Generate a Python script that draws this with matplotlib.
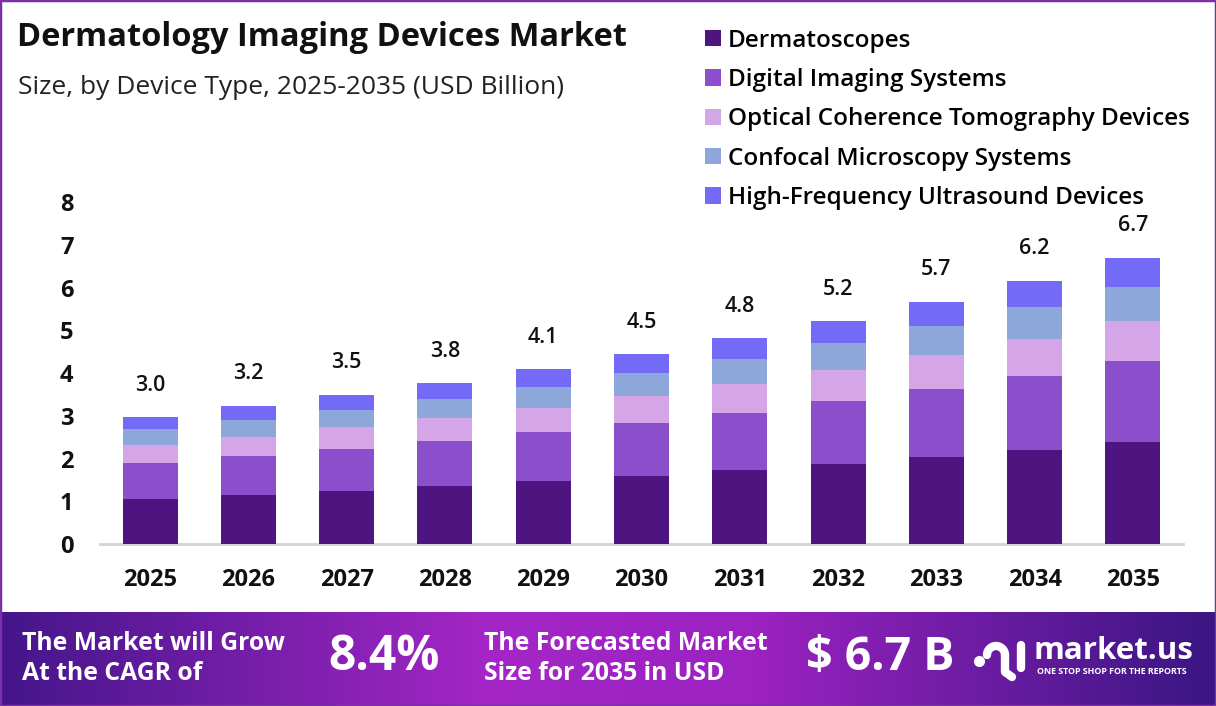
import numpy as np
import matplotlib
matplotlib.use("Agg")
import matplotlib.pyplot as plt
from matplotlib.patches import Rectangle
from matplotlib.colors import LinearSegmentedColormap

plt.rcParams["font.family"] = ["Open Sans", "DejaVu Sans"]

# data (USD Billion)
years = ["2025", "2026", "2027", "2028", "2029", "2030", "2031", "2032", "2033", "2034", "2035"]
dermatoscopes = [1.05, 1.15, 1.25, 1.36, 1.47, 1.59, 1.73, 1.87, 2.04, 2.20, 2.39]
digital_imaging = [0.84, 0.91, 0.98, 1.05, 1.15, 1.25, 1.33, 1.47, 1.59, 1.73, 1.89]
oct_devices = [0.42, 0.45, 0.50, 0.54, 0.56, 0.62, 0.68, 0.73, 0.79, 0.87, 0.94]
confocal = [0.37, 0.39, 0.41, 0.44, 0.49, 0.54, 0.58, 0.63, 0.69, 0.75, 0.80]
hf_ultrasound = [0.28, 0.33, 0.35, 0.37, 0.42, 0.44, 0.49, 0.51, 0.56, 0.61, 0.68]
totals = ["3.0", "3.2", "3.5", "3.8", "4.1", "4.5", "4.8", "5.2", "5.7", "6.2", "6.7"]

series = ["Dermatoscopes", "Digital Imaging Systems", "Optical Coherence Tomography Devices",
          "Confocal Microscopy Systems", "High-Frequency Ultrasound Devices"]
colors = ["#4E1580", "#8B4FCB", "#D4A6E8", "#8EA7DA", "#736BF7"]

W, H = 1216, 706
fig = plt.figure(figsize=(W / 100, H / 100), dpi=100)


def fx(px):
    return px / W


def fy(py):
    return 1 - py / H


# main chart
ax = fig.add_axes([fx(100), fy(544), fx(1183) - fx(100), fy(202) - fy(544)])
x = np.arange(len(years))
bottom = np.zeros(len(years))
handles = []
for vals, name, c in zip([dermatoscopes, digital_imaging, oct_devices, confocal, hf_ultrasound], series, colors):
    b = ax.bar(x, vals, 0.56, bottom=bottom, color=c, label=name, zorder=3)
    handles.append(b)
    bottom += np.array(vals)

for i, t in enumerate(totals):
    ax.annotate(t, (x[i], bottom[i]), xytext=(0, 23), textcoords="offset points",
                ha="center", va="center", fontsize=15.5, fontweight="semibold", color="#111111")

ax.set_xlim(-0.51, 10.51)
ax.set_ylim(0, 8)
ax.set_yticks(range(0, 9))
ax.set_xticks(x)
ax.set_xticklabels(years)
for s in ["top", "right", "left"]:
    ax.spines[s].set_visible(False)
ax.spines["bottom"].set_color("#D3D3D3")
ax.spines["bottom"].set_linewidth(2)
ax.tick_params(axis="both", length=0, labelsize=17, colors="#111111")
ax.tick_params(axis="x", pad=17)
ax.tick_params(axis="y", pad=19)
for lab in ax.get_xticklabels() + ax.get_yticklabels():
    lab.set_fontweight("bold")

# title
fig.text(fx(17), fy(38), "Dermatology Imaging Devices Market", fontsize=23.5, fontweight="bold",
         va="center", ha="left", color="#111111")
fig.text(fx(18), fy(88), "Size, by Device Type, 2025-2035 (USD Billion)", fontsize=19,
         va="center", ha="left", color="#222222")

# legend
fig.legend(handles, series, loc="upper left", bbox_to_anchor=(fx(695), fy(19)), frameon=False,
           prop={"weight": "semibold", "size": 17.5}, handlelength=0.65, handleheight=0.65,
           handletextpad=0.3, labelspacing=0.63, borderaxespad=0)

# bottom banner with gradient
bax = fig.add_axes([0, 0, 1, fy(612)])
grad = LinearSegmentedColormap.from_list("banner", [(0, "#44168A"), (0.4, "#A426C6"), (0.62, "#9C22C2"), (1, "#3A1682")])
bax.imshow(np.linspace(0, 1, 256).reshape(1, -1), aspect="auto", cmap=grad, extent=[0, 1, 0, 1])
bax.set_axis_off()

fig.text(fx(22), fy(643), "The Market will Grow", color="white", fontsize=17.8, fontweight="bold", va="center")
fig.text(fx(22), fy(673), "At the CAGR of", color="white", fontsize=17.8, fontweight="bold", va="center")
fig.text(fx(328), fy(657), "8.4%", color="white", fontsize=34.5, fontweight="bold", va="center")
fig.text(fx(484), fy(643), "The Forecasted Market", color="white", fontsize=17.8, fontweight="bold", va="center")
fig.text(fx(484), fy(673), "Size for 2035 in USD", color="white", fontsize=17.8, fontweight="bold", va="center")
fig.text(fx(806), fy(657), "$ 6.7 B", color="white", fontsize=33.5, fontweight="bold", va="center")

# logo
fig.add_artist(plt.Line2D([fx(979)], [fy(661)], marker="o", markersize=7, color="white"))
t = np.linspace(np.pi, 0, 30)
fig.add_artist(plt.Line2D(fx(996 + 9 * np.cos(t)), fy(655 - 9 * np.sin(t)), color="white", lw=6,
                          solid_capstyle="round"))
fig.add_artist(plt.Line2D([fx(1005), fx(1005), fx(1012)], [fy(655), fy(672), fy(677)], color="white", lw=6,
                          solid_capstyle="round"))
fig.add_artist(plt.Line2D([fx(1021), fx(1021)], [fy(645), fy(668)], color="white", lw=6, solid_capstyle="round"))
fig.text(fx(1034), fy(651), "market.us", color="white", fontsize=22.5, fontweight="bold", va="center")
fig.text(fx(1037), fy(671), "ONE STOP SHOP FOR THE REPORTS", color="white", fontsize=6.4, fontweight="bold",
         va="center")

# frame
fig.add_artist(Rectangle((0, 0), 1, 1, transform=fig.transFigure, fill=False, edgecolor="#7B2FA8", lw=2.5))

fig.savefig("out.png", dpi=100)
